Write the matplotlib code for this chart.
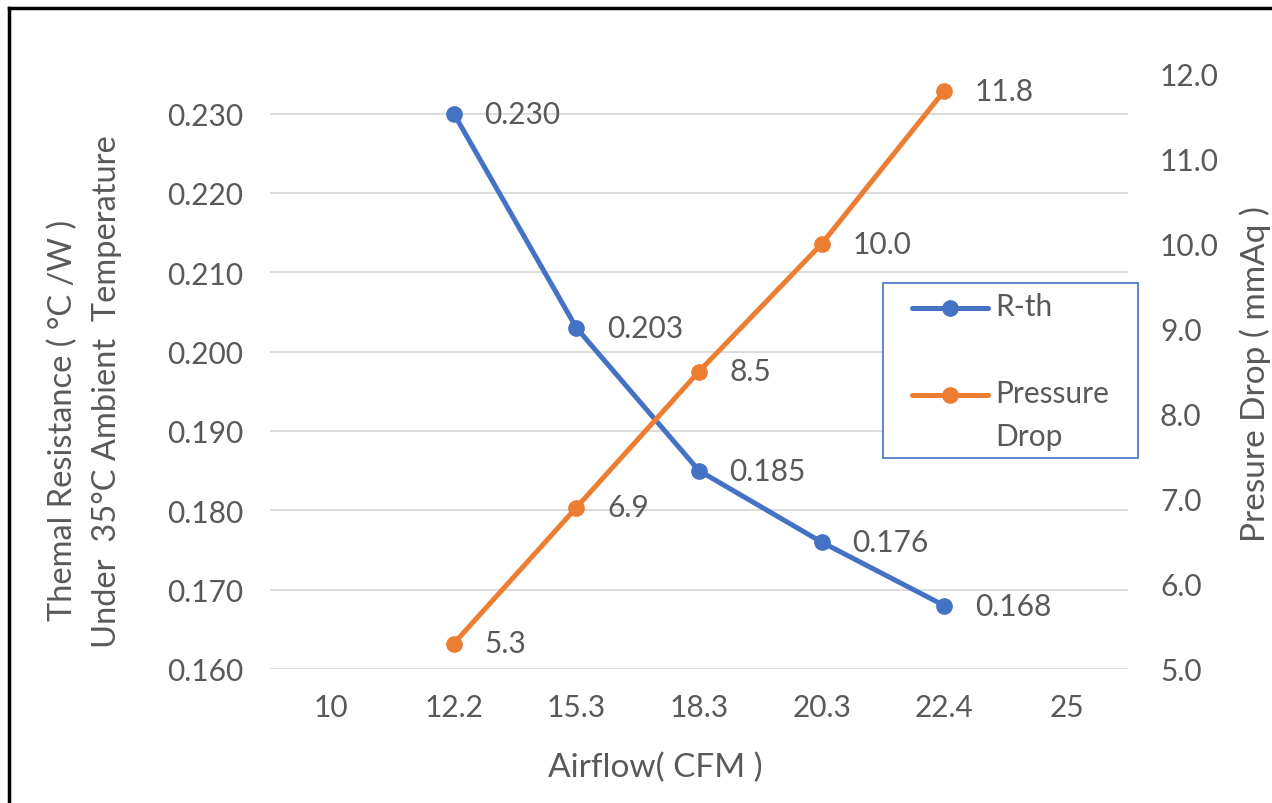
import numpy as np
import matplotlib
matplotlib.use("Agg")
import matplotlib.pyplot as plt
from matplotlib.lines import Line2D
from matplotlib.patches import Rectangle

# chart data
airflow_labels = ["10", "12.2", "15.3", "18.3", "20.3", "22.4", "25"]
data_idx = [1, 2, 3, 4, 5]          # categories that carry a value
r_th = [0.230, 0.203, 0.185, 0.176, 0.168]
pressure_drop = [5.3, 6.9, 8.5, 10.0, 11.8]
legend_names = ["R-th", "Pressure", "Drop"]

BLUE = "#4472C4"
ORANGE = "#ED7D31"
TXT = "#595959"
GRID = "#D9D9D9"
FS = 21.5
FT = 23.5

plt.rcParams['font.family'] = ['Lato', 'DejaVu Sans']

W, H = 1272, 804
fig = plt.figure(figsize=(W / 100, H / 100), dpi=100)
ax1 = fig.add_axes([270 / W, 1 - 670 / H, (1128 - 270) / W, (670 - 75) / H])
ax2 = ax1.twinx()

l1, = ax1.plot(data_idx, r_th, color=BLUE, lw=3.6, marker='o', ms=11,
               solid_capstyle='round')
l2, = ax2.plot(data_idx, pressure_drop, color=ORANGE, lw=3.6, marker='o', ms=11,
               solid_capstyle='round')

for x, v in zip(data_idx, r_th):
    ax1.annotate(f"{v:.3f}", (x, v), xytext=(22, 0), textcoords='offset points',
                 ha='left', va='center', fontsize=FS, color=TXT)
for x, v in zip(data_idx, pressure_drop):
    ax2.annotate(f"{v:.1f}", (x, v), xytext=(22, 0), textcoords='offset points',
                 ha='left', va='center', fontsize=FS, color=TXT)

ax1.set_xlim(-0.5, len(airflow_labels) - 0.5)
ax1.set_xticks(range(len(airflow_labels)))
ax1.set_xticklabels(airflow_labels)

ax1.set_ylim(0.160, 0.235)
ax1.set_yticks(np.arange(0.160, 0.2305, 0.010))
ax1.yaxis.set_major_formatter(matplotlib.ticker.FormatStrFormatter('%.3f'))
ax2.set_ylim(5.0, 12.0)
ax2.set_yticks(np.arange(5.0, 12.05, 1.0))
ax2.yaxis.set_major_formatter(matplotlib.ticker.FormatStrFormatter('%.1f'))

ax1.grid(axis='y', color=GRID, lw=1.3)
ax1.set_axisbelow(True)

for ax in (ax1, ax2):
    for s in ax.spines.values():
        s.set_visible(False)
ax1.tick_params(axis='both', length=0, labelsize=FS, labelcolor=TXT)
ax1.tick_params(axis='y', pad=19)
ax1.tick_params(axis='x', pad=17)
ax2.tick_params(axis='y', length=0, labelsize=FS, labelcolor=TXT, pad=23)

# axis titles
fig.text(655 / W, 1 - 768 / H, "Airflow( CFM )", ha='center', va='center',
         fontsize=24, color=TXT)
fig.text(63 / W, 1 - 420 / H, "Themal Resistance ( °C /W )", rotation=90,
         ha='center', va='center', fontsize=FT, color=TXT)
fig.text(107 / W, 1 - 392 / H, "Under  35°C Ambient  Temperature", rotation=90,
         ha='center', va='center', fontsize=FT, color=TXT)
fig.text(1255 / W, 1 - 374 / H, "Presure Drop ( mmAq )", rotation=90,
         ha='center', va='center', fontsize=24, color=TXT)

# legend box drawn by hand so the second entry can wrap like the original
fig.add_artist(Rectangle((883 / W, 1 - 459 / H), (1138 - 883) / W, (459 - 284) / H,
                         transform=fig.transFigure, facecolor='white',
                         edgecolor=BLUE, lw=1.2, zorder=5))
for color, y in ((BLUE, 309), (ORANGE, 396)):
    fig.add_artist(Line2D([912 / W, 988 / W], [1 - y / H, 1 - y / H], color=color,
                          lw=3.6, solid_capstyle='round', transform=fig.transFigure,
                          zorder=6))
    fig.add_artist(Line2D([950 / W], [1 - y / H], color=color, marker='o', ms=11,
                          transform=fig.transFigure, zorder=6))
for name, y in zip(legend_names, (307, 394, 437)):
    fig.text(995 / W, 1 - y / H, name, ha='left', va='center', fontsize=FS,
             color=TXT, zorder=7)

# page border on the left and top edges
fig.add_artist(Line2D([9 / W, 9 / W], [0, 1 - 9 / H], color='black',
                      lw=2.5, transform=fig.transFigure))
fig.add_artist(Line2D([9 / W, 1], [1 - 9 / H, 1 - 9 / H], color='black',
                      lw=2.5, transform=fig.transFigure))

fig.savefig("out.png", dpi=100)
